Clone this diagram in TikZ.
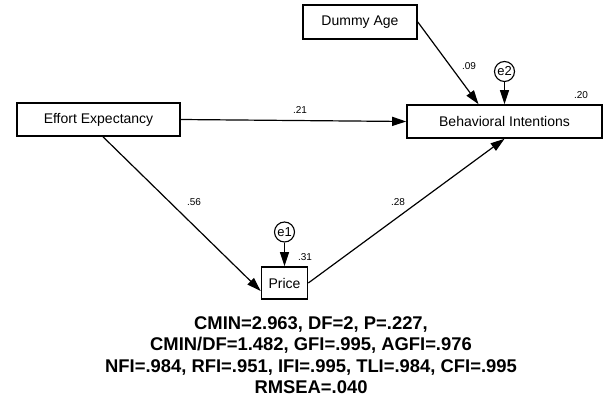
\documentclass[tikz,border=0pt]{standalone}
\usepackage{fontspec}
\setmainfont{Liberation Sans}
\usetikzlibrary{arrows.meta}
\begin{document}
\begin{tikzpicture}
    [
    x=1pt,y=-1pt,
    var/.style={rectangle,draw,line width=1.6pt,inner sep=0pt,font=\fontsize{14}{16}\selectfont},
    err/.style={circle,draw,line width=1.1pt,inner sep=0pt,minimum size=20pt,font=\fontsize{13}{15}\selectfont},
    est/.style={inner sep=0pt,font=\fontsize{10}{12}\selectfont},
    fit/.style={anchor=base,inner sep=0pt,text depth=0pt,font=\bfseries\fontsize{18.4}{21}\selectfont},
    reg/.style={line width=1.2pt,-{Triangle[length=14pt,width=9pt]}}
    ]
    \useasboundingbox (0,0) rectangle (608,396);
    \node (dummy) at (360,22) [var,minimum width=114pt,minimum height=34pt] {Dummy Age};
    \node (effort) at (98.5,119.5) [var,minimum width=163pt,minimum height=33pt] {Effort Expectancy};
    \node (behav) at (504.5,121.5) [var,minimum width=195pt,minimum height=33pt] {Behavioral Intentions};
    \node (price) at (284.5,283) [var,minimum width=46pt,minimum height=32pt] {Price};
    \node (e1) at (284.5,232) [err] {e1};
    \node (e2) at (504.5,71.5) [err] {e2};
    \node (r2price) at (305,257) [est] {.31};
    \node (r2behav) at (581,95) [est] {.20};
    \node (b1) at (469,66) [est] {.09};
    \node (b2) at (300,110) [est] {.21};
    \node (b3) at (194,202) [est] {.56};
    \node (b4) at (398,202) [est] {.28};
    \node (fit1) at (311,329) [fit] {CMIN=2.963, DF=2, P=.227,};
    \node (fit2) at (311,350.5) [fit] {CMIN/DF=1.482, GFI=.995, AGFI=.976};
    \node (fit3) at (311,372) [fit] {NFI=.984, RFI=.951, IFI=.995, TLI=.984, CFI=.995};
    \node (fit4) at (311,393) [fit] {RMSEA=.040};
    \draw [reg] (effort.east) -- (behav.west);
    \draw [reg] (dummy.east) -- ([xshift=-26pt]behav.north);
    \draw [reg] (e2) -- (behav.north);
    \draw [reg] ([xshift=4.5pt]effort.south) -- ([yshift=-8pt]price.west);
    \draw [reg] (price.east) -- (behav.south);
    \draw [reg] (e1) -- (price);
  \end{tikzpicture}
\end{document}
